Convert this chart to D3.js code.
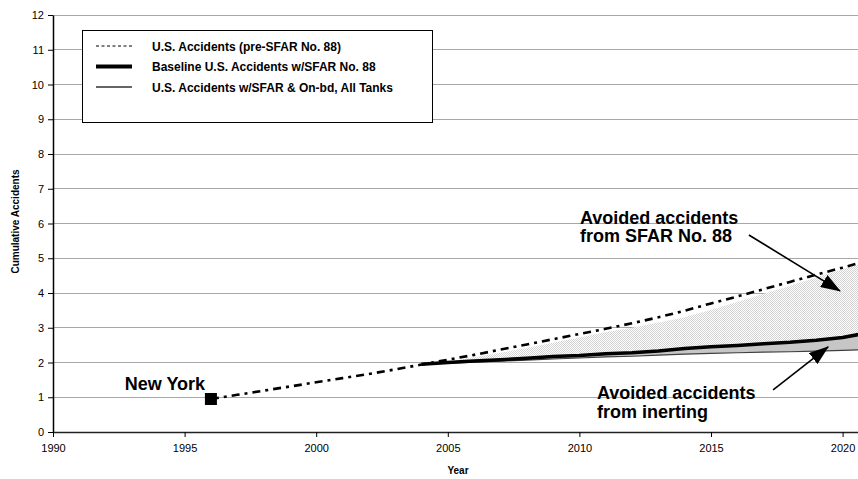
<!DOCTYPE html>
<html>
<head>
<meta charset="utf-8">
<script src="https://cdn.jsdelivr.net/npm/d3@7"></script>
<style>
  html, body { margin: 0; padding: 0; background: #fff; }
  svg { display: block; }
  text { font-family: Arial, "Liberation Sans", sans-serif; }
</style>
</head>
<body>
<svg id="chart" width="858" height="479"></svg>
<script>
// ---------- DATA ----------
const preYears = [1996,1997,1998,1999,2000,2001,2002,2003,2004,2005,2006,2007,2008,2009,2010,2011,2012,2013,2014,2015,2016,2017,2018,2019,2020,2021];
const preSFAR  = [0.95,1.07,1.19,1.31,1.43,1.55,1.67,1.80,1.94,2.08,2.22,2.37,2.52,2.67,2.82,2.97,3.13,3.30,3.49,3.70,3.90,4.11,4.32,4.53,4.73,4.94];

const postYears = [2004,2005,2006,2007,2008,2009,2010,2011,2012,2013,2014,2015,2016,2017,2018,2019,2020,2021];
const baselineSFAR = [1.95,2.00,2.04,2.08,2.12,2.17,2.20,2.25,2.28,2.33,2.40,2.45,2.49,2.54,2.58,2.64,2.72,2.86];
const inertingAll  = [1.95,1.98,2.01,2.04,2.07,2.10,2.13,2.16,2.18,2.21,2.24,2.26,2.28,2.30,2.31,2.33,2.35,2.37];
const avoidedTop   = [1.95,2.02,2.15,2.28,2.42,2.57,2.72,2.87,3.00,3.15,3.30,3.52,3.74,3.98,4.20,4.45,4.68,4.92];

const xTicks = [1990,1995,2000,2005,2010,2015,2020];
const yTicks = [0,1,2,3,4,5,6,7,8,9,10,11,12];

const legendLabels = [
  "U.S. Accidents (pre-SFAR No. 88)",
  "Baseline U.S. Accidents w/SFAR No. 88",
  "U.S. Accidents w/SFAR & On-bd, All Tanks"
];

const newYork = { year: 1996, value: 0.95, label: "New York" };

const annotations = [
  { lines: ["Avoided accidents", "from SFAR No. 88"], year: 2010.02, value: 5.99,
    from: [2016.44, 5.67], to: [2019.9, 4.06] },
  { lines: ["Avoided accidents", "from inerting"], year: 2010.67, value: 0.94,
    from: [2017.36, 1.21], to: [2019.45, 2.45] }
];

// ---------- LAYOUT ----------
const svg = d3.select("#chart");
const mLeft = 53, mTop = 15, mBottom = 432, mRight = 858;
const pxPerYear = 26.32;

const x = d3.scaleLinear().domain([1990, 2021]).range([mLeft, mLeft + 31 * pxPerYear]);
const y = d3.scaleLinear().domain([0, 12]).range([mBottom, mTop]);

const defs = svg.append("defs");
defs.append("clipPath").attr("id", "plotClip")
  .append("rect").attr("x", mLeft).attr("y", mTop).attr("width", mRight - mLeft).attr("height", mBottom - mTop);

const pat = defs.append("pattern").attr("id", "stipple")
  .attr("patternUnits", "userSpaceOnUse").attr("width", 2).attr("height", 2);
pat.append("rect").attr("width", 2).attr("height", 2).attr("fill", "#ffffff");
pat.append("rect").attr("x", 0).attr("y", 0).attr("width", 1).attr("height", 1).attr("fill", "#d2d2d2");
pat.append("rect").attr("x", 1).attr("y", 1).attr("width", 1).attr("height", 1).attr("fill", "#d2d2d2");

defs.append("marker").attr("id", "arrowHead")
  .attr("viewBox", "0 0 20 14").attr("refX", 19).attr("refY", 7)
  .attr("markerWidth", 20).attr("markerHeight", 14).attr("markerUnits", "userSpaceOnUse")
  .attr("orient", "auto")
  .append("path").attr("d", "M0,0 L20,7 L0,14 Z").attr("fill", "#000");

// gridlines
svg.append("g").selectAll("line").data(yTicks.filter(d => d > 0)).join("line")
  .attr("x1", mLeft).attr("x2", mRight)
  .attr("y1", d => y(d)).attr("y2", d => y(d))
  .attr("stroke", "#a8a8a8").attr("stroke-width", 1)
  .attr("shape-rendering", "crispEdges");

const plot = svg.append("g").attr("clip-path", "url(#plotClip)");

const post = postYears.map((yr, i) => ({ yr, base: baselineSFAR[i], inert: inertingAll[i], top: avoidedTop[i] }));
plot.append("path").datum(post)
  .attr("d", d3.area().x(d => x(d.yr)).y0(d => y(d.inert)).y1(d => y(d.top)))
  .attr("fill", "url(#stipple)");

plot.append("path").datum(post)
  .attr("d", d3.area().x(d => x(d.yr)).y0(d => y(d.inert)).y1(d => y(d.base)))
  .attr("fill", "#c6c6c6");

plot.append("path").datum(post)
  .attr("d", d3.line().x(d => x(d.yr)).y(d => y(d.inert)))
  .attr("fill", "none").attr("stroke", "#404040").attr("stroke-width", 1.2);

plot.append("path").datum(post)
  .attr("d", d3.line().x(d => x(d.yr)).y(d => y(d.base)))
  .attr("fill", "none").attr("stroke", "#000").attr("stroke-width", 3.5);

const pre = preYears.map((yr, i) => ({ yr, v: preSFAR[i] }));
plot.append("path").datum(pre)
  .attr("d", d3.line().x(d => x(d.yr)).y(d => y(d.v)))
  .attr("fill", "none").attr("stroke", "#000").attr("stroke-width", 2.6)
  .attr("stroke-dasharray", "8,5,3,5");

plot.append("rect")
  .attr("x", x(newYork.year) - 6).attr("y", y(newYork.value) - 6)
  .attr("width", 12).attr("height", 12).attr("fill", "#000");
svg.append("text")
  .attr("x", x(newYork.year) - 46).attr("y", y(newYork.value) - 9)
  .attr("text-anchor", "middle").attr("font-size", 18).attr("font-weight", "bold")
  .text(newYork.label);

const yAxis = d3.axisLeft(y).tickValues(yTicks).tickSize(5).tickSizeOuter(0).tickPadding(4);
const gy = svg.append("g").attr("transform", `translate(${mLeft},0)`).call(yAxis);
gy.select(".domain").attr("stroke", "#000").attr("stroke-width", 1.5);
gy.selectAll(".tick line").attr("stroke", "#000");
gy.selectAll("text").attr("font-size", 11).attr("font-family", "Arial, 'Liberation Sans', sans-serif").attr("fill", "#000");

const xAxis = d3.axisBottom(x).tickValues(xTicks).tickFormat(d3.format("d")).tickSize(5).tickSizeOuter(0).tickPadding(7);
const gx = svg.append("g").attr("transform", `translate(0,${mBottom})`).call(xAxis);
gx.select(".domain").attr("stroke", "#222").attr("stroke-width", 1.5);
gx.selectAll(".tick line").attr("stroke", "#000");
gx.selectAll("text").attr("font-size", 11).attr("font-family", "Arial, 'Liberation Sans', sans-serif").attr("fill", "#000");

svg.append("text")
  .attr("transform", `translate(19,${(mTop + mBottom) / 2 - 2}) rotate(-90)`)
  .attr("text-anchor", "middle").attr("font-size", 10).attr("font-weight", "bold")
  .text("Cumulative Accidents");
svg.append("text")
  .attr("x", 458).attr("y", 474)
  .attr("text-anchor", "middle").attr("font-size", 10).attr("font-weight", "bold")
  .text("Year");

const lg = svg.append("g");
lg.append("rect").attr("x", 82.5).attr("y", 30.5).attr("width", 350).attr("height", 92)
  .attr("fill", "#fff").attr("stroke", "#000").attr("stroke-width", 1);
const legendStyles = [
  { w: 1, dash: "3,2.5", color: "#000" },
  { w: 4, dash: null, color: "#000" },
  { w: 1.5, dash: null, color: "#333" }
];
legendLabels.forEach((lab, i) => {
  const ly = 46 + i * 20.5;
  const s = legendStyles[i];
  lg.append("line").attr("x1", 96).attr("x2", 132).attr("y1", ly).attr("y2", ly)
    .attr("stroke", s.color).attr("stroke-width", s.w)
    .attr("stroke-dasharray", s.dash);
  lg.append("text").attr("x", 152).attr("y", ly + 4.5)
    .attr("font-size", 12).attr("font-weight", "bold").text(lab);
});

annotations.forEach(a => {
  const t = svg.append("text").attr("font-size", 18).attr("font-weight", "bold");
  a.lines.forEach((ln, i) => {
    t.append("tspan").attr("x", x(a.year)).attr("y", y(a.value) + i * 18.5).text(ln);
  });
  svg.append("line")
    .attr("x1", x(a.from[0])).attr("y1", y(a.from[1]))
    .attr("x2", x(a.to[0])).attr("y2", y(a.to[1]))
    .attr("stroke", "#000").attr("stroke-width", 1.6)
    .attr("marker-end", "url(#arrowHead)");
});
</script>
</body>
</html>
